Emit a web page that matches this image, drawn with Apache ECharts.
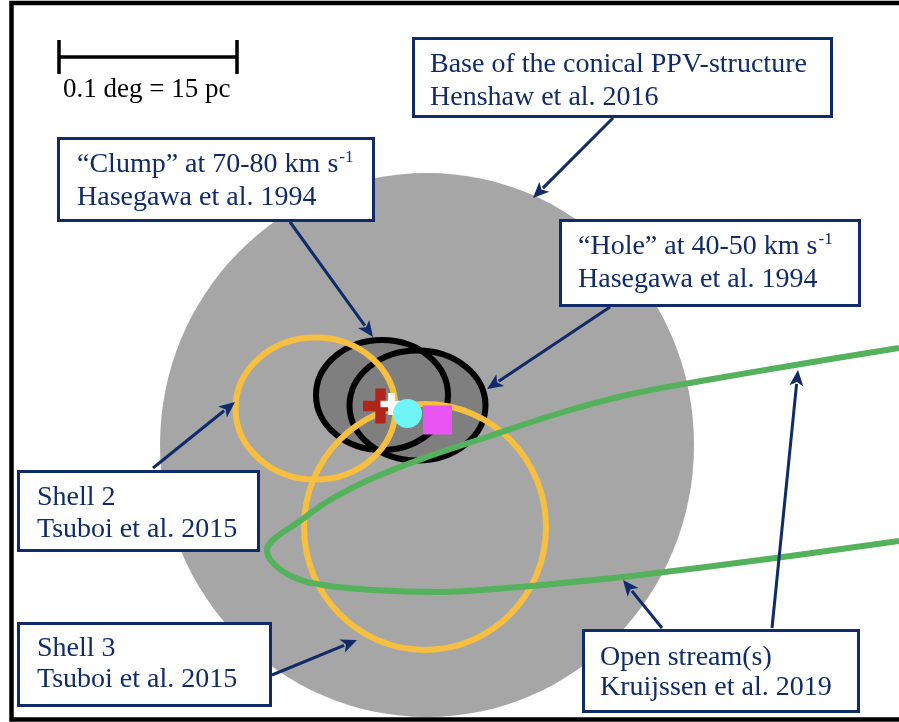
<!DOCTYPE html>
<html><head><meta charset="utf-8">
<script src="https://cdn.jsdelivr.net/npm/echarts@6/dist/echarts.min.js"></script>
<style>html,body{margin:0;padding:0;background:#fff}#c{width:899px;height:722px}</style>
</head><body><div id="c"></div>
<script>
// ---- data (picture units, x to the right, y downward) ----
// [centerX, centerY, radiusX, radiusY]
const ppvBase = [[427, 445, 267, 272]];
const hasegawaEllipses = [[382, 395, 66, 55], [417.5, 405.5, 68, 55]];
const tsuboiShells = [[315.5, 408.5, 80, 71], [425, 527, 121, 123]];
// open stream (Kruijssen et al. 2019)
const streamX = [899, 807, 707, 627, 560, 487, 427, 373, 330, 297, 273, 267, 273, 293, 323, 373, 440, 507, 573, 640, 760, 899];
const streamY = [348, 363, 380, 395, 413, 437, 457, 478, 500, 523, 540, 550, 563, 577, 585, 590, 592, 588, 582, 575, 560, 541];
// markers
const redCross = [[380.5, 406]];
const whiteCross = [[391.5, 404]];
const cyanDot = [[407.5, 413.5]];
const magentaSquare = [[437.5, 420]];
// annotation arrows [x0, y0, x1, y1]
const arrows = [
  [613, 118, 533, 198],
  [290, 222, 373, 337],
  [610, 307, 487, 389],
  [153, 468, 235, 402],
  [272, 675, 357, 640],
  [662, 628, 623, 580],
  [772, 628, 798, 370]
];

const NAVY = '#0f2b69';
const SERIF = '"Liberation Serif", "DejaVu Serif", serif';

function ellipseRender(style) {
  return function (params, api) {
    const cx = api.value(0), cy = api.value(1), rx = api.value(2), ry = api.value(3);
    const c = api.coord([cx, cy]);
    const px = Math.abs(api.coord([cx + rx, cy])[0] - c[0]);
    const py = Math.abs(api.coord([cx, cy + ry])[1] - c[1]);
    return { type: 'ellipse', shape: { cx: c[0], cy: c[1], rx: px, ry: py }, style: style };
  };
}
function arrowRender(params, api) {
  const p0 = api.coord([api.value(0), api.value(1)]);
  const p1 = api.coord([api.value(2), api.value(3)]);
  const dx = p1[0] - p0[0], dy = p1[1] - p0[1];
  const L = Math.sqrt(dx * dx + dy * dy);
  const ux = dx / L, uy = dy / L;
  const hl = 16, hw = 7;
  const b = [p1[0] - ux * hl, p1[1] - uy * hl];
  const e = [p1[0] - ux * (hl - 2), p1[1] - uy * (hl - 2)];
  return {
    type: 'group', children: [
      { type: 'line', shape: { x1: p0[0], y1: p0[1], x2: e[0], y2: e[1] }, style: { stroke: NAVY, lineWidth: 3 } },
      { type: 'polygon', shape: { points: [p1, [b[0] - uy * hw, b[1] + ux * hw], [p1[0] - ux * (hl - 4), p1[1] - uy * (hl - 4)], [b[0] + uy * hw, b[1] - ux * hw]] }, style: { fill: NAVY } }
    ]
  };
}

const chart = echarts.init(document.getElementById('c'), null, { renderer: 'canvas' });

function box(x, y, w, h) {
  return { type: 'rect', shape: { x: x, y: y, width: w, height: h }, style: { fill: '#fff', stroke: NAVY, lineWidth: 3 }, z: 100 };
}
function txt(x, y, s, rich) {
  return { type: 'text', x: x, y: y, z: 101, style: { text: s, fill: NAVY, fontFamily: SERIF, fontSize: 28, verticalAlign: 'middle', rich: rich } };
}
const supRich = {
  n: { fontFamily: SERIF, fontSize: 28, fill: NAVY, color: NAVY },
  sup: { fontFamily: SERIF, fontSize: 17, fill: NAVY, color: NAVY, verticalAlign: 'top', padding: [0, 0, 14, 1] }
};

chart.setOption({
  animation: false,
  grid: { left: 0, right: 0, top: 0, bottom: 0 },
  xAxis: { type: 'value', min: 0, max: 899, show: false },
  yAxis: { type: 'value', min: 0, max: 722, inverse: true, show: false },
  series: [
    { type: 'custom', data: ppvBase, renderItem: ellipseRender({ fill: '#a6a6a6' }), z: 1, clip: false, silent: true },
    { type: 'custom', data: hasegawaEllipses, renderItem: ellipseRender({ fill: '#7f7f7f' }), z: 2, clip: false, silent: true },
    { type: 'custom', data: hasegawaEllipses, renderItem: ellipseRender({ fill: null, stroke: '#000', lineWidth: 6 }), z: 3, clip: false, silent: true },
    { type: 'custom', data: tsuboiShells, renderItem: ellipseRender({ fill: null, stroke: '#f6bf3f', lineWidth: 6 }), z: 4, clip: false, silent: true },
    { type: 'line', data: streamX.map((x, i) => [x, streamY[i]]), smooth: 0.4, showSymbol: false, lineStyle: { color: '#54b15c', width: 6 }, z: 5, silent: true },
    { type: 'scatter', data: redCross, symbol: 'path://M13,0H24V13H37V24H24V37H13V24H0V13H13Z', symbolSize: 35, itemStyle: { color: '#b0241a', opacity: 1 }, z: 6, silent: true },
    { type: 'scatter', data: whiteCross, symbol: 'path://M8,0H15V8H23V15H15V23H8V15H0V8H8Z', symbolSize: 22, itemStyle: { color: '#ffffff', opacity: 1 }, z: 7, silent: true },
    { type: 'scatter', data: cyanDot, symbol: 'circle', symbolSize: 29, itemStyle: { color: '#70f5f7', opacity: 1 }, z: 8, silent: true },
    { type: 'scatter', data: magentaSquare, symbol: 'rect', symbolSize: 29, itemStyle: { color: '#e955f2', opacity: 1 }, z: 9, silent: true },
    { type: 'custom', data: arrows, renderItem: arrowRender, z: 10, clip: false, silent: true }
  ],
  graphic: [
    { type: 'rect', shape: { x: 11.5, y: 3, width: 1000, height: 716.5 }, style: { fill: null, stroke: '#000', lineWidth: 4.5 }, z: 200 },
    // scale bar
    { type: 'line', shape: { x1: 58.5, y1: 57, x2: 237.5, y2: 57 }, style: { stroke: '#000', lineWidth: 3.5 }, z: 101 },
    { type: 'line', shape: { x1: 59, y1: 40, x2: 59, y2: 74 }, style: { stroke: '#000', lineWidth: 3.5 }, z: 101 },
    { type: 'line', shape: { x1: 237, y1: 40, x2: 237, y2: 74 }, style: { stroke: '#000', lineWidth: 3.5 }, z: 101 },
    { type: 'text', x: 63, y: 90, z: 101, style: { text: '0.1 deg = 15 pc', fill: '#000', fontFamily: SERIF, fontSize: 27, verticalAlign: 'middle' } },
    // boxes
    box(413.5, 38.5, 418, 78), txt(430, 65, 'Base of the conical PPV-structure'), txt(430, 98, 'Henshaw et al. 2016'),
    box(58.5, 138.5, 315, 82), txt(77, 165, '{n|\u201cClump\u201d at 70-80 km s}{sup|-1}', supRich), txt(77, 198, 'Hasegawa et al. 1994'),
    box(560.5, 220.5, 299, 85), txt(578, 247, '{n|\u201cHole\u201d at 40-50 km s}{sup|-1}', supRich), txt(578, 280, 'Hasegawa et al. 1994'),
    box(18.5, 471.5, 240, 79), txt(37, 498, 'Shell 2'), txt(37, 530, 'Tsuboi et al. 2015'),
    box(18.5, 623.5, 252, 82), txt(37, 649, 'Shell 3'), txt(37, 680, 'Tsuboi et al. 2015'),
    box(583.5, 630.5, 275, 81), txt(600, 658, 'Open stream(s)'), txt(600, 688, 'Kruijssen et al. 2019')
  ]
});
</script>
</body></html>
